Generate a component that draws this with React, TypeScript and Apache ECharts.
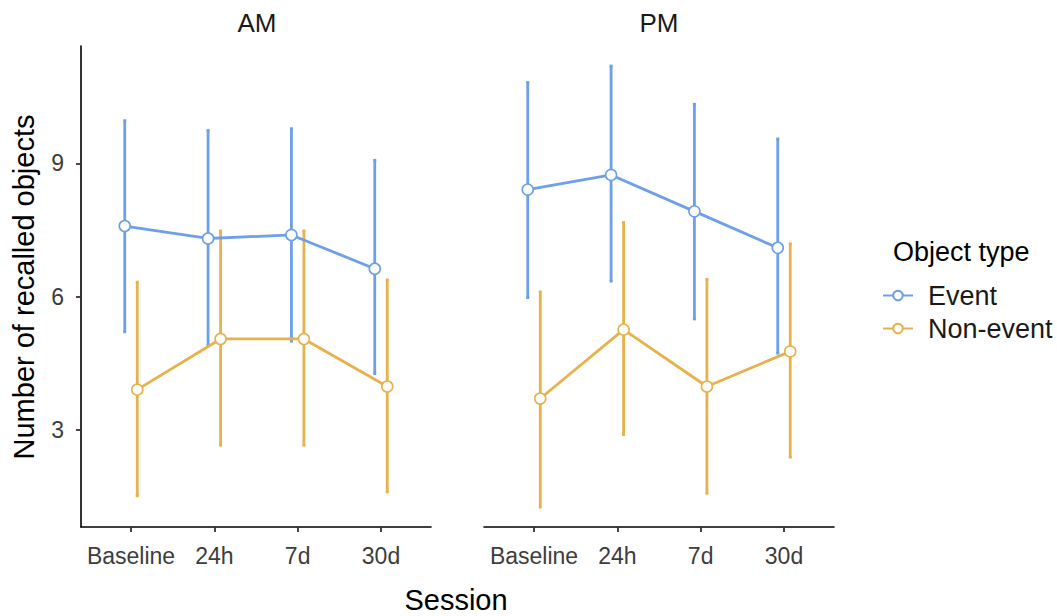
import React, { useEffect, useRef } from "react";
import * as echarts from "echarts";

const sessions = ["Baseline", "24h", "7d", "30d"];
const panels = ["AM", "PM"];
const groups = ["Event", "Non-event"];
const groupColors = ["#6E9FEA", "#E9B14C"];

const amEventMean = [7.59, 7.31, 7.39, 6.63];
const amEventLow = [5.21, 4.91, 5.0, 4.27];
const amEventHigh = [9.96, 9.74, 9.78, 9.07];
const amNonMean = [3.91, 5.05, 5.05, 3.98];
const amNonLow = [1.52, 2.66, 2.66, 1.61];
const amNonHigh = [6.33, 7.48, 7.48, 6.38];

const pmEventMean = [8.41, 8.74, 7.92, 7.1];
const pmEventLow = [5.98, 6.35, 5.5, 4.73];
const pmEventHigh = [10.82, 11.19, 10.33, 9.55];
const pmNonMean = [3.71, 5.26, 3.98, 4.77];
const pmNonLow = [1.27, 2.9, 1.58, 2.39];
const pmNonHigh = [6.11, 7.67, 6.39, 7.19];

const yTicks = [3, 6, 9];
const xTicks = [1, 2, 3, 4];
const dodge = [-0.075, 0.075];

const FONT = "'Liberation Sans', Arial, sans-serif";

const panelData = [
  [
    { mean: amEventMean, low: amEventLow, high: amEventHigh },
    { mean: amNonMean, low: amNonLow, high: amNonHigh },
  ],
  [
    { mean: pmEventMean, low: pmEventLow, high: pmEventHigh },
    { mean: pmNonMean, low: pmNonLow, high: pmNonHigh },
  ],
];

export default function App() {
  const ref = useRef<HTMLDivElement>(null);
  useEffect(() => {
    document.body.style.margin = "0";
    const chart = echarts.init(ref.current!, null, { renderer: "svg" });
    const gridLefts = [81, 484];
    const series: any[] = [];
    panelData.forEach((pg, pi) => {
      pg.forEach((g, gi) => {
        const color = groupColors[gi];
        series.push({
          name: groups[gi] + " error " + panels[pi],
          type: "custom",
          xAxisIndex: pi,
          yAxisIndex: pi,
          z: 1,
          encode: { x: 0, y: [1, 2] },
          data: g.mean.map((_, i) => [i + 1 + dodge[gi], g.low[i], g.high[i]]),
          renderItem: (params: any, api: any) => {
            const x = api.value(0);
            const lo = api.coord([x, api.value(1)]);
            const hi = api.coord([x, api.value(2)]);
            const c = 1.5;
            const st = { stroke: color, lineWidth: 2.8 };
            return {
              type: "group",
              children: [
                { type: "line", shape: { x1: lo[0], y1: lo[1], x2: hi[0], y2: hi[1] }, style: st },
                { type: "line", shape: { x1: lo[0] - c, y1: lo[1], x2: lo[0] + c, y2: lo[1] }, style: st },
                { type: "line", shape: { x1: hi[0] - c, y1: hi[1], x2: hi[0] + c, y2: hi[1] }, style: st },
              ],
            };
          },
        });
      });
    });
    panelData.forEach((pg, pi) => {
      pg.forEach((g, gi) => {
        const color = groupColors[gi];
        series.push({
          name: groups[gi],
          type: "line",
          xAxisIndex: pi,
          yAxisIndex: pi,
          z: 3,
          data: g.mean.map((m, i) => [i + 1 + dodge[gi], m]),
          symbol: "circle",
          symbolSize: 11,
          showAllSymbol: true,
          itemStyle: { color: "#ffffff", borderColor: color, borderWidth: 1.6 },
          lineStyle: { color, width: 2.8 },
          emphasis: { disabled: true },
        });
      });
    });

    const option: any = {
      animation: false,
      textStyle: { fontFamily: FONT },
      grid: gridLefts.map((l) => ({ left: l, top: 46, width: 350, height: 481 })),
      xAxis: [0, 1].map((i) => ({
        type: "value",
        gridIndex: i,
        min: 0.4,
        max: 4.6,
        axisLine: { show: true, lineStyle: { color: "#000", width: 1.6 } },
        axisTick: { show: true, customValues: xTicks, length: 5, lineStyle: { color: "#333", width: 1.8 } },
        axisLabel: {
          customValues: xTicks,
          formatter: (v: number) => sessions[Math.round(v) - 1] ?? "",
          fontSize: 23,
          color: "#3D3D3D",
          margin: 17,
          fontFamily: FONT,
        },
        splitLine: { show: false },
      })),
      yAxis: [0, 1].map((i) => ({
        type: "value",
        gridIndex: i,
        min: 0.82,
        max: 11.64,
        show: i === 0,
        axisLine: { show: true, lineStyle: { color: "#000", width: 1.6 } },
        axisTick: { show: true, customValues: yTicks, length: 5, lineStyle: { color: "#333", width: 1.8 } },
        axisLabel: {
          customValues: yTicks,
          fontSize: 23,
          color: "#3D3D3D",
          margin: 17,
          fontFamily: FONT,
        },
        splitLine: { show: false },
      })),
      legend: {
        data: groups,
        orient: "vertical",
        left: 877,
        top: 277,
        itemWidth: 30,
        itemHeight: 12,
        itemGap: 6,
        textStyle: { fontSize: 27, color: "#1A1A1A", fontFamily: FONT, padding: [0, 0, 0, 10] },
      },
      graphic: [
        { type: "text", x: 257, y: 23, style: { text: panels[0], fontSize: 26, fill: "#1A1A1A", align: "center", verticalAlign: "middle", fontFamily: FONT } },
        { type: "text", x: 659, y: 23, style: { text: panels[1], fontSize: 26, fill: "#1A1A1A", align: "center", verticalAlign: "middle", fontFamily: FONT } },
        { type: "text", x: 24, y: 287, rotation: Math.PI / 2, style: { text: "Number of recalled objects", fontSize: 29, fill: "#000", align: "center", verticalAlign: "middle", fontFamily: FONT } },
        { type: "text", x: 456, y: 600, style: { text: "Session", fontSize: 29, fill: "#000", align: "center", verticalAlign: "middle", fontFamily: FONT } },
        { type: "text", x: 893, y: 252, style: { text: "Object type", fontSize: 27, fill: "#000", align: "left", verticalAlign: "middle", fontFamily: FONT } },
      ],
      series,
    };
    chart.setOption(option);
    return () => chart.dispose();
  }, []);
  return <div ref={ref} style={{ width: 1057, height: 616 }} />;
}
